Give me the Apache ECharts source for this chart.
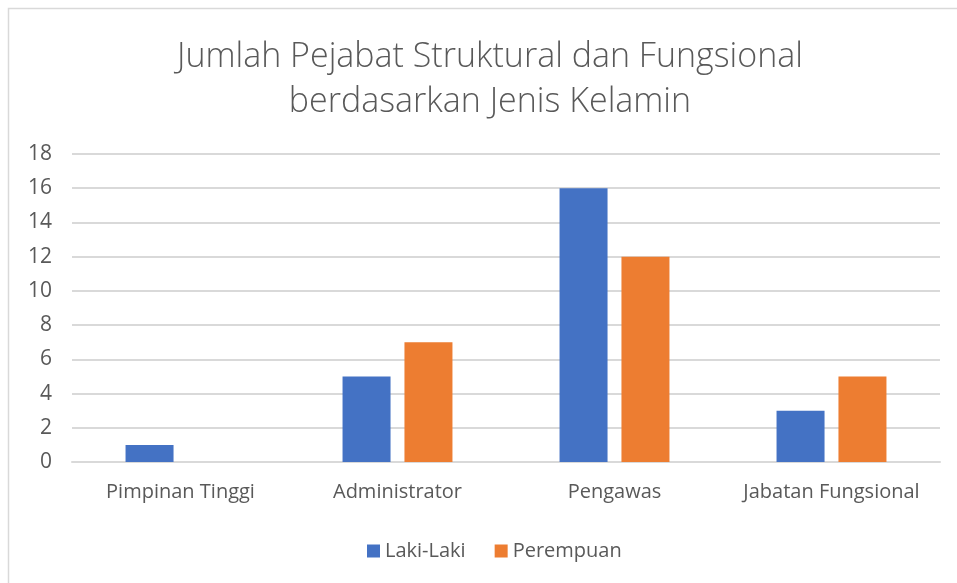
<!DOCTYPE html>
<html><head><meta charset="utf-8">
<script src="https://cdn.jsdelivr.net/npm/echarts@6/dist/echarts.min.js"></script>
<style>html,body{margin:0;padding:0;background:#fff}#c{width:957px;height:583px}</style>
</head><body><div id="c"></div>
<script>
const categories = ['Pimpinan Tinggi', 'Administrator', 'Pengawas', 'Jabatan Fungsional'];
const lakiLaki = [1, 5, 16, 3];
const perempuan = [0, 7, 12, 5];
const seriesNames = ['Laki-Laki', 'Perempuan'];
const titleLines = ['Jumlah Pejabat Struktural dan Fungsional', 'berdasarkan Jenis Kelamin'];

const chart = echarts.init(document.getElementById('c'));
const font = 'Open Sans';
chart.setOption({
  animation: false,
  textStyle: { fontFamily: font },
  graphic: [{
    type: 'rect', shape: { x: 8.5, y: 8.5, width: 1000, height: 1000 },
    style: { fill: 'none', stroke: '#d9d9d9', lineWidth: 1.5 }, silent: true
  }],
  title: {
    text: titleLines.join('\n'),
    left: 485, top: 30, textAlign: 'center',
    textStyle: { fontFamily: font, fontSize: 34, fontWeight: 300, color: '#595959', lineHeight: 45 }
  },
  legend: {
    data: seriesNames, left: 362, top: 536, itemWidth: 13, itemHeight: 13, itemGap: 29,
    icon: 'rect',
    textStyle: { fontFamily: font, fontSize: 20, color: '#595959' }
  },
  grid: { left: 72, right: 17, top: 154, bottom: 121, containLabel: false },
  xAxis: {
    type: 'category', data: categories,
    axisLine: { show: true, lineStyle: { color: '#d9d9d9', width: 2 } },
    axisTick: { show: false },
    axisLabel: { fontFamily: font, fontSize: 20, color: '#595959', margin: 20, interval: 0 }
  },
  yAxis: {
    type: 'value', min: 0, max: 18, interval: 2,
    axisLine: { show: false }, axisTick: { show: false },
    axisLabel: { fontFamily: font, fontSize: 21, color: '#595959', margin: 20 },
    splitLine: { lineStyle: { color: '#d9d9d9', width: 2 } }
  },
  series: [
    { name: seriesNames[0], type: 'bar', data: lakiLaki, barWidth: 48, barGap: '29%', itemStyle: { color: '#4472C4' } },
    { name: seriesNames[1], type: 'bar', data: perempuan, barWidth: 48, itemStyle: { color: '#ED7D31' } }
  ]
});
</script></body></html>
